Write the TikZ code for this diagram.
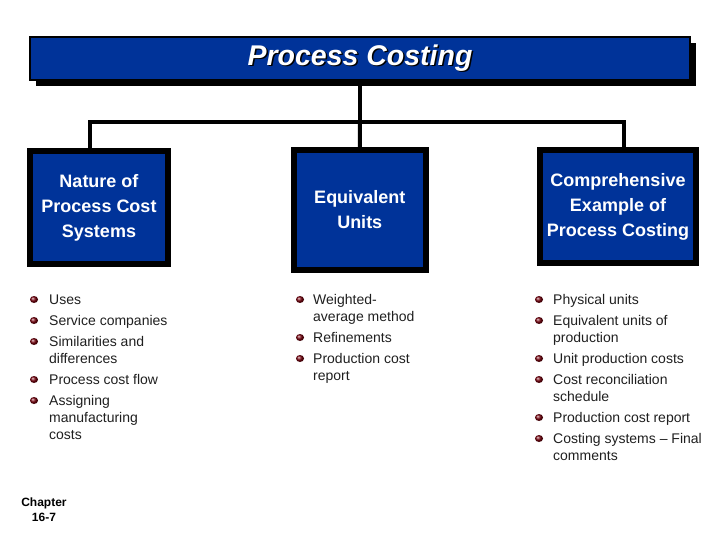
\documentclass[tikz,border=0pt]{standalone}
\usepackage{fontspec}
\setmainfont{Liberation Sans}
\usetikzlibrary{shadows}
\definecolor{pcblue}{RGB}{0,51,153}
\definecolor{bulred}{RGB}{120,0,12}
\newcommand{\twolines}[2]{\vtop{\hbox{#1}\hbox{#2}}}
\newcommand{\threelines}[3]{\vtop{\hbox{#1}\hbox{#2}\hbox{#3}}}
\begin{document}
\begin{tikzpicture}[x=1pt,y=-1pt,
  box/.style={fill=pcblue,draw=black,line width=6pt,text=white,
    font=\fontsize{18}{25}\selectfont\bfseries,align=center,inner sep=0pt,outer sep=0pt,
    drop shadow={shadow xshift=0pt,shadow yshift=-3pt,fill=black,opacity=1}},
  titlefont/.style={font=\fontsize{28.5}{30}\selectfont\bfseries\itshape,inner sep=0pt},
  conn/.style={draw=black,line width=4pt,line join=miter},
  item/.style={anchor=base west,inner sep=0pt,text=black!88,
    font=\fontsize{14}{17}\selectfont},
  bul/.style={ball color=bulred}
]
\useasboundingbox (0,0) rectangle (720,540);
% title bar
\node[fill=pcblue,draw=black,line width=2pt,minimum width=660pt,minimum height=43pt,
  inner sep=0pt,outer sep=0pt,
  drop shadow={shadow xshift=6pt,shadow yshift=-6pt,fill=black,opacity=1}]
  (title) at (360,58.5) {};
\node[titlefont,text=black] (titleshadow) at (361.5,59.5) {Process Costing};
\node[titlefont,text=white] (titletext) at (360,58) {Process Costing};
% boxes
\node[box,minimum width=138pt,minimum height=112pt] (b1) at (99,207.5)
  {Nature of\\Process Cost\\Systems};
\node[box,minimum width=131.5pt,minimum height=120pt] (b2) at (359.75,210)
  {Equivalent\\Units};
\node[box,minimum width=156pt,minimum height=113pt] (b3) at (618,206.5)
  {Comprehensive\\Example of\\Process Costing};
% connectors
\coordinate (hub) at (360,122);
\draw[conn] (title.south) -- (hub);
\draw[conn] ([xshift=-9pt]b1.north) -- ([xshift=-9pt]b1.north |- hub)
  -- ([xshift=6pt]b3.north |- hub) -- ([xshift=6pt]b3.north);
\draw[conn] (hub) -- (b2.north);
% left column
\node[item] (l1) at (49,304) {Uses};
\node[item] (l2) at (49,325) {Service companies};
\node[item] (l3) at (49,346) {\twolines{Similarities and}{differences}};
\node[item] (l4) at (49,384) {Process cost flow};
\node[item] (l5) at (49,405) {\threelines{Assigning}{manufacturing}{costs}};
\foreach \y in {304,325,346,384,405} \shade[bul] (34,\y-4.5) ellipse (4 and 3.5);
% middle column
\node[item] (m1) at (313,304) {\twolines{Weighted-}{average method}};
\node[item] (m2) at (313,342) {Refinements};
\node[item] (m3) at (313,363) {\twolines{Production cost}{report}};
\foreach \y in {304,342,363} \shade[bul] (300,\y-4.5) ellipse (4 and 3.5);
% right column
\node[item] (r1) at (553,304) {Physical units};
\node[item] (r2) at (553,325) {\twolines{Equivalent units of}{production}};
\node[item] (r3) at (553,363) {Unit production costs};
\node[item] (r4) at (553,384) {\twolines{Cost reconciliation}{schedule}};
\node[item] (r5) at (553,422) {Production cost report};
\node[item] (r6) at (553,443) {\twolines{Costing systems – Final}{comments}};
\foreach \y in {304,325,363,384,422,443} \shade[bul] (539,\y-4.5) ellipse (4 and 3.5);
% chapter
\node[font=\fontsize{12}{15}\selectfont\bfseries,align=center,inner sep=0pt] (chap)
  at (44,510) {Chapter\\16-7};
\end{tikzpicture}
\end{document}
